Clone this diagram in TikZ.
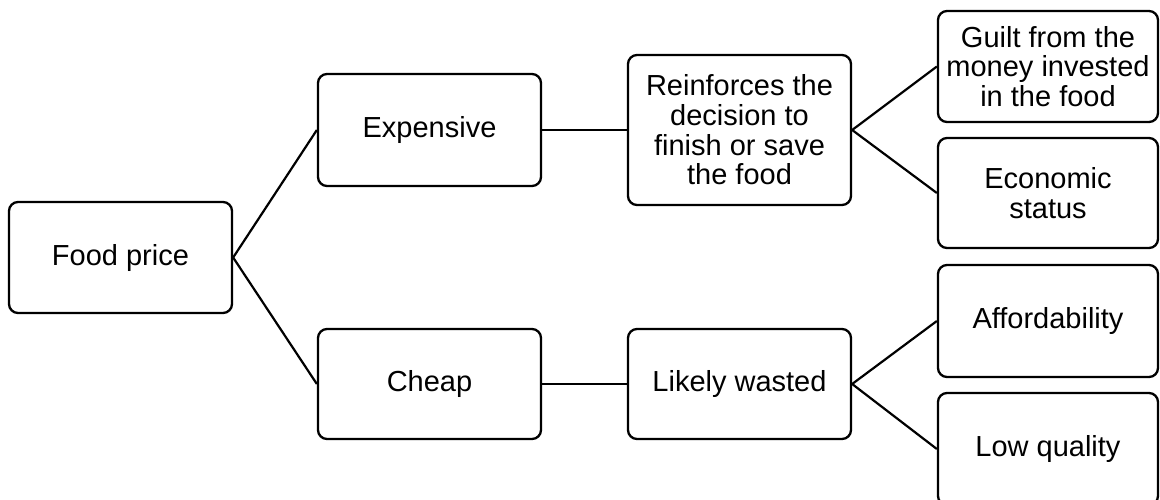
\documentclass[tikz,border=0pt]{standalone}
\usepackage{fontspec}
\setmainfont{Liberation Sans}
\begin{document}
\begin{tikzpicture}[x=1pt,y=-1pt,
  box/.style={draw=black, line width=2.3pt, rounded corners=9pt, fill=white,
    minimum width=223pt, minimum height=111pt, align=center, inner sep=0pt,
    font=\fontsize{29}{29.7}\selectfont},
  leaf/.style={box, minimum width=220pt},
  link/.style={draw=black, line width=2.2pt}]
\useasboundingbox[fill=white] (0,0) rectangle (1160,499);

% first and second levels
\node[box] (food) at (120.5,257.5) {Food price};
\node[box, minimum height=112pt] (exp) at (429.5,130) {Expensive};
\node[box, minimum height=110pt] (cheap) at (429.5,384) {Cheap};

% third level
\node[box, minimum height=150pt] (reinf) at (739.5,130)
  {Reinforces the\\decision to\\finish or save\\the food};
\node[box, minimum height=110pt] (wasted) at (739.5,384) {Likely wasted};

% leaves
\node[leaf] (guilt) at (1048,66.5) {Guilt from the\\money invested\\in the food};
\node[leaf, minimum height=110pt] (econ) at (1048,193) {Economic\\status};
\node[leaf, minimum height=112pt] (afford) at (1048,321) {Affordability};
\node[leaf, minimum height=112pt] (lowq) at (1048,449) {Low quality};

% connectors
\draw[link] (food.east) -- (exp.west);
\draw[link] (food.east) -- (cheap.west);
\draw[link] (exp.east) -- (reinf.west);
\draw[link] (cheap.east) -- (wasted.west);
\draw[link] (reinf.east) -- (guilt.west);
\draw[link] (reinf.east) -- (econ.west);
\draw[link] (wasted.east) -- (afford.west);
\draw[link] (wasted.east) -- (lowq.west);
\end{tikzpicture}
\end{document}
